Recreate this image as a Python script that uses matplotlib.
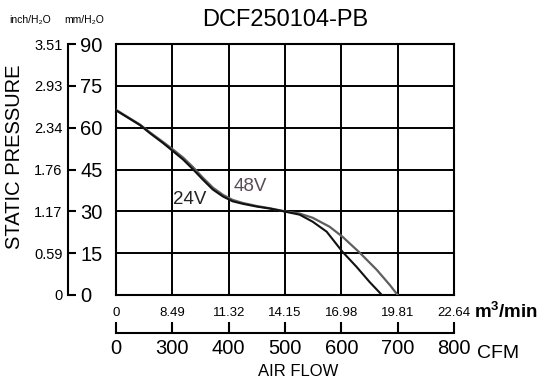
import numpy as np
import matplotlib
matplotlib.use("Agg")
import matplotlib.pyplot as plt

FONT = ['Liberation Sans', 'DejaVu Sans']
plt.rcParams['font.family'] = FONT
plt.rcParams['mathtext.fontset'] = 'custom'
plt.rcParams['mathtext.rm'] = 'Liberation Sans'
plt.rcParams['mathtext.bf'] = 'Liberation Sans:bold'

title = "DCF250104-PB"
cfm_ticks = [0, 300, 400, 500, 600, 700, 800]
m3_labels = ["0", "8.49", "11.32", "14.15", "16.98", "19.81", "22.64"]
mm_ticks = [0, 15, 30, 45, 60, 75, 90]
inch_labels = ["0", "0.59", "1.17", "1.76", "2.34", "2.93", "3.51"]

v24_cfm = [0, 128, 181, 250, 301, 319, 337, 354, 372, 390, 407, 425, 450, 473,
           500, 526, 549, 574, 602, 627, 650, 672]
v24_mm = [66.2, 60.9, 58.0, 54.5, 51.6, 48.6, 45.0, 41.4, 37.8, 35.3, 33.6, 32.7, 31.7, 31.0,
          29.9, 28.8, 26.3, 22.7, 15.5, 10.1, 4.7, 0]
v48_cfm = [0, 128, 181, 250, 301, 319, 337, 354, 372, 390, 407, 425, 450, 473,
           500, 526, 549, 579, 602, 633, 663, 686, 700]
v48_mm = [66.4, 61.1, 58.3, 54.9, 52.2, 49.3, 45.8, 42.1, 38.5, 35.9, 34.1, 33.0, 31.9, 31.1,
          30.0, 29.2, 27.7, 24.5, 20.9, 15.1, 9.0, 3.6, 0]

W, H = 545, 381
fig = plt.figure(figsize=(W / 100, H / 100), dpi=100)

def fx(px):
    return px / W

def fy(py):
    return 1 - py / H

L, R, T, B = 116, 454, 44, 295
ax = fig.add_axes([fx(L), fy(B), fx(R - L), (B - T) / H])

pos = np.arange(len(cfm_ticks), dtype=float)
fwd = lambda x: np.interp(x, cfm_ticks, pos)
inv = lambda p: np.interp(p, pos, cfm_ticks)
ax.set_xscale('function', functions=(fwd, inv))
ax.set_xlim(0, 800)
ax.set_ylim(0, 90)
ax.set_xticks(cfm_ticks)
ax.set_xticklabels(m3_labels, fontsize=9.5)
ax.set_yticks(mm_ticks)
ax.set_yticklabels([])
ax.tick_params(axis='both', length=0)
ax.tick_params(axis='x', pad=9)
ax.grid(True, color='black', lw=1.4)
for s in ax.spines.values():
    s.set_linewidth(1.5)
ax.set_axisbelow(True)

ax.plot(v48_cfm, v48_mm, color='#5e5e5e', lw=1.6, zorder=3, solid_joinstyle='round')
ax.plot(v24_cfm, v24_mm, color='#111111', lw=1.5, zorder=4, solid_joinstyle='round')
ax.text(331, 34.2, "24V", fontsize=13.5, ha='center', va='center', color='#222222')
ax.text(439, 38.9, "48V", fontsize=13.5, ha='center', va='center', color='#5a4a5a')

# CFM axis
axc = fig.add_axes([fx(L), fy(333), fx(R - L), 0.0001])
axc.set_xscale('function', functions=(fwd, inv))
axc.set_xlim(0, 800)
axc.set_xticks(cfm_ticks)
axc.set_xticklabels([str(v) for v in cfm_ticks], fontsize=14.5)
axc.set_yticks([])
for k in ['top', 'left', 'right']:
    axc.spines[k].set_visible(False)
axc.spines['bottom'].set_linewidth(1.5)
axc.tick_params(axis='x', direction='in', length=8, width=1.5, pad=4)
axc.patch.set_visible(False)

# left pressure axis
axl = fig.add_axes([fx(68), fy(B), fx(8), (B - T) / H])
axl.set_ylim(0, 90)
axl.set_xticks([])
axl.set_yticks(mm_ticks)
axl.set_yticklabels(inch_labels, fontsize=10.5)
for k in ['top', 'bottom', 'right']:
    axl.spines[k].set_visible(False)
axl.spines['left'].set_linewidth(1.5)
axl.tick_params(axis='y', direction='in', length=6, width=1.5, pad=4)
axl.patch.set_visible(False)
axr = axl.twinx()
axr.set_ylim(0, 90)
axr.set_yticks(mm_ticks)
axr.set_yticklabels([str(v) for v in mm_ticks], fontsize=14.5)
for s in axr.spines.values():
    s.set_visible(False)
axr.tick_params(axis='y', length=0, pad=3)

fig.text(fx(285), fy(20), title, fontsize=17, ha='center', va='center')
fig.text(fx(30), fy(20), "inch/H₂O", fontsize=7.5, ha='center', va='center')
fig.text(fx(84), fy(20), "mm/H₂O", fontsize=7.5, ha='center', va='center')
fig.text(fx(15), fy(157), "STATIC PRESSURE", fontsize=14.5, rotation=90, ha='center', va='center')
fig.text(fx(474), fy(312), r"$\mathbf{m^3}$/min", fontsize=13.5, ha='left', va='center',
         fontweight='bold')
fig.text(fx(477), fy(353), "CFM", fontsize=14, ha='left', va='center')
fig.text(fx(298), fy(372), "AIR FLOW", fontsize=12, ha='center', va='center')

fig.savefig("out.png", dpi=100)
